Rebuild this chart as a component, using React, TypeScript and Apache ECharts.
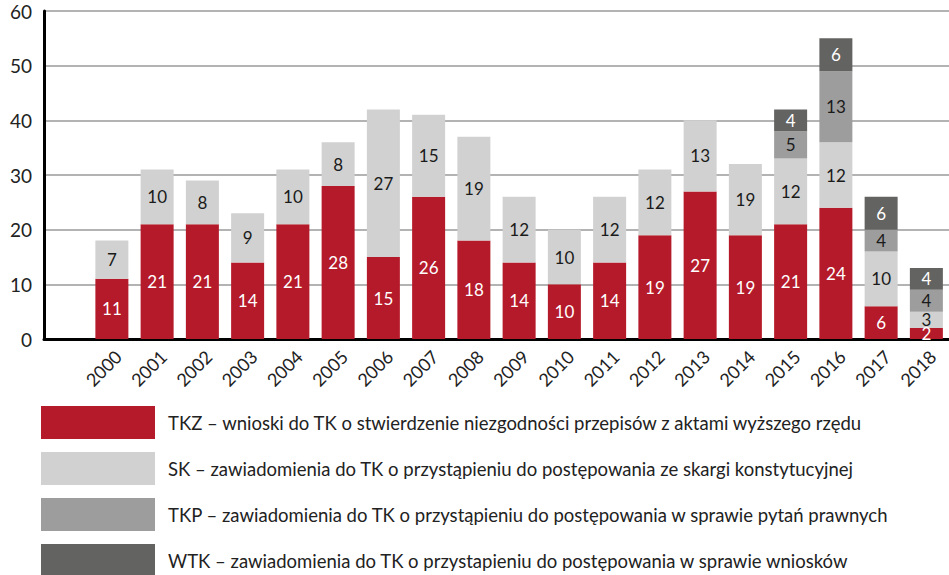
import React, { useEffect, useRef } from "react";
import * as echarts from "echarts";

const categories = ["", "2000", "2001", "2002", "2003", "2004", "2005", "2006", "2007", "2008", "2009", "2010", "2011", "2012", "2013", "2014", "2015", "2016", "2017", "2018"];
const tkz: (number | string)[] = ["-", 11, 21, 21, 14, 21, 28, 15, 26, 18, 14, 10, 14, 19, 27, 19, 21, 24, 6, 2];
// bar heights as drawn (2014 SK bar is drawn 13 tall, labelled 19)
const sk: (number | string)[] = ["-", 7, 10, 8, 9, 10, 8, 27, 15, 19, 12, 10, 12, 12, 13, 13, 12, 12, 10, 3];
const skLabels: string[] = ["", "7", "10", "8", "9", "10", "8", "27", "15", "19", "12", "10", "12", "12", "13", "19", "12", "12", "10", "3"];
const tkp: (number | string)[] = ["-", "-", "-", "-", "-", "-", "-", "-", "-", "-", "-", "-", "-", "-", "-", "-", 5, 13, 4, 4];
const wtk: (number | string)[] = ["-", "-", "-", "-", "-", "-", "-", "-", "-", "-", "-", "-", "-", "-", "-", "-", 4, 6, 6, 4];

const names = [
  "TKZ – wnioski do TK o stwierdzenie niezgodności przepisów z aktami wyższego rzędu",
  "SK – zawiadomienia do TK o przystąpieniu do postępowania ze skargi konstytucyjnej",
  "TKP – zawiadomienia do TK o przystąpieniu do postępowania w sprawie pytań prawnych",
  "WTK – zawiadomienia do TK o przystapieniu do postępowania w sprawie wniosków",
];
const colors = ["#B51A2A", "#D0D1D0", "#9D9D9D", "#636362"];
const labelColors = ["#ffffff", "#1a1a1a", "#1a1a1a", "#ffffff"];
const seriesData = [tkz, sk, tkp, wtk];

export default function App() {
  const ref = useRef<HTMLDivElement>(null);
  useEffect(() => {
    if (!ref.current) return;
    const chart = echarts.init(ref.current, undefined, { renderer: "svg" });
    const font = "Lato, 'Noto Sans', sans-serif";
    chart.setOption({
      animation: false,
      textStyle: { fontFamily: font },
      grid: { left: 44, right: -3, top: 11, bottom: 236, containLabel: false },
      legend: {
        orient: "vertical",
        left: 41,
        top: 406,
        height: 200,
        padding: 0,
        icon: "rect",
        itemWidth: 114,
        itemHeight: 33,
        itemGap: 13,
        selectedMode: false,
        data: names,
        textStyle: { fontSize: 18.5, color: "#222", fontFamily: font, padding: [0, 0, 0, 8] },
      },
      xAxis: {
        type: "category",
        data: categories,
        axisLine: { show: true, lineStyle: { color: "#000", width: 3 } },
        axisTick: { show: false },
        axisLabel: {
          rotate: 45,
          fontSize: 18,
          color: "#222",
          margin: 8,
          interval: 0,
          fontFamily: font,
          align: "right",
          verticalAlign: "top",
        },
      },
      yAxis: {
        type: "value",
        min: 0,
        max: 60,
        interval: 10,
        axisLine: { show: true, lineStyle: { color: "#000", width: 3 } },
        axisTick: { show: false },
        axisLabel: { fontSize: 19, color: "#222", margin: 12, fontFamily: font },
        splitLine: { lineStyle: { color: "#b3b3b3", width: 2 } },
      },
      series: seriesData.map((d, i) => ({
        name: names[i],
        type: "bar",
        stack: "total",
        barWidth: 33,
        data: d,
        itemStyle: { color: colors[i] },
        label: {
          show: true,
          position: "inside",
          color: labelColors[i],
          fontSize: 17,
          fontFamily: font,
          formatter: i === 1 ? (p: any) => skLabels[p.dataIndex] : "{c}",
        },
      })),
    });
    return () => chart.dispose();
  }, []);
  return (
    <div
      ref={ref}
      style={{ position: "fixed", left: 0, top: 0, width: 949, height: 575, background: "#fff" }}
    />
  );
}
